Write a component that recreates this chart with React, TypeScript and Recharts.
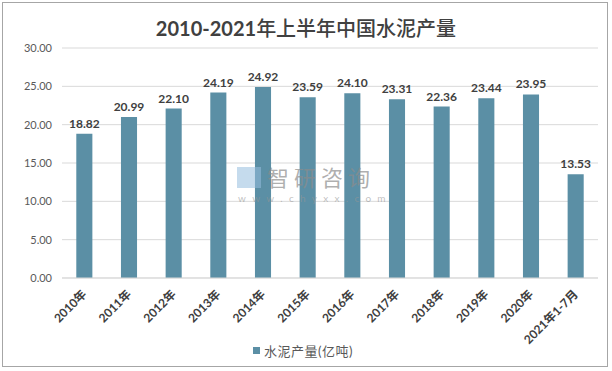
import { BarChart, Bar, XAxis, YAxis, CartesianGrid, Legend, LabelList } from 'recharts';

const years = ['2010年', '2011年', '2012年', '2013年', '2014年', '2015年', '2016年', '2017年', '2018年', '2019年', '2020年', '2021年1-7月'];
const output = [18.82, 20.99, 22.1, 24.19, 24.92, 23.59, 24.1, 23.31, 22.36, 23.44, 23.95, 13.53];
const yTicks = [0, 5, 10, 15, 20, 25, 30];

const data = years.map((year, i) => ({ year, output: output[i] }));

const FONT = "Lato, 'Noto Sans CJK SC', sans-serif";
const BAR = '#5b8fa5';

function YearTick(props: any) {
  const { x, y, payload } = props;
  return (
    <text
      transform={`translate(${x + 3},${y + 9}) rotate(-45)`}
      textAnchor="end"
      fontSize={12}
      fontWeight={700}
      fill="#404040"
      fontFamily={FONT}
    >
      {payload.value}
    </text>
  );
}

function LegendBox() {
  return (
    <div style={{ display: 'flex', justifyContent: 'center', alignItems: 'center', fontFamily: FONT, fontSize: 13, color: '#595959', letterSpacing: 0.5, marginLeft: 8 }}>
      <span style={{ width: 7, height: 7, background: BAR, marginRight: 4, display: 'inline-block' }} />
      <span>水泥产量(亿吨)</span>
    </div>
  );
}

export default function App() {
  return (
    <div style={{ position: 'absolute', left: 0, top: 0, width: 612, height: 371, background: '#fff' }}>
      {/* outer frame */}
      <div style={{ position: 'absolute', left: 2, top: 2, width: 604, height: 363, border: '1px solid #a6a6a6' }} />

      <div style={{ position: 'absolute', left: 0, top: 13, width: 612, textAlign: 'center', fontFamily: FONT, fontSize: 20, color: '#404040' }}>
        <span style={{ fontWeight: 700 }}>2010-2021</span>
        <span style={{ fontWeight: 500 }}>年上半年中国水泥产量</span>
      </div>

      <div style={{ position: 'absolute', left: 0, top: 0 }}>
        <BarChart width={612} height={371} data={data} margin={{ top: 48, right: 14, left: 0, bottom: 14 }} barCategoryGap="68%">
          <CartesianGrid vertical={false} stroke="#d9d9d9" />
          <XAxis dataKey="year" axisLine={{ stroke: '#d9d9d9' }} tickLine={false} interval={0} height={63} tick={<YearTick />} />
          <YAxis
            width={62}
            domain={[0, 30]}
            ticks={yTicks}
            axisLine={false}
            tickLine={false}
            tickMargin={4}
            tickFormatter={(v: number) => v.toFixed(2)}
            tick={{ fontSize: 11, fill: '#595959', fontFamily: FONT }}
          />
          <Legend verticalAlign="bottom" height={16} content={<LegendBox />} />
          <Bar dataKey="output" fill={BAR} isAnimationActive={false}>
            <LabelList
              dataKey="output"
              position="top"
              offset={6}
              formatter={(v: any) => Number(v).toFixed(2)}
              style={{ fontSize: 12, fontWeight: 700, fill: '#404040', fontFamily: FONT }}
            />
          </Bar>
        </BarChart>
      </div>

      {/* watermark, drawn over the bars */}
      <div style={{ position: 'absolute', left: 237, top: 167, width: 24, height: 21, background: 'rgba(150,190,222,0.55)' }} />
      <div style={{ position: 'absolute', left: 267, top: 164, lineHeight: '24px', fontFamily: "'Noto Sans CJK SC', sans-serif", fontSize: 22, color: 'rgba(140,140,140,0.7)', letterSpacing: 5 }}>
        智研咨询
      </div>
      <div style={{ position: 'absolute', left: 238, top: 192, lineHeight: '12px', fontFamily: FONT, fontSize: 10, color: 'rgba(150,150,150,0.6)', letterSpacing: 6.3 }}>
        www.chyxx.com
      </div>
    </div>
  );
}
